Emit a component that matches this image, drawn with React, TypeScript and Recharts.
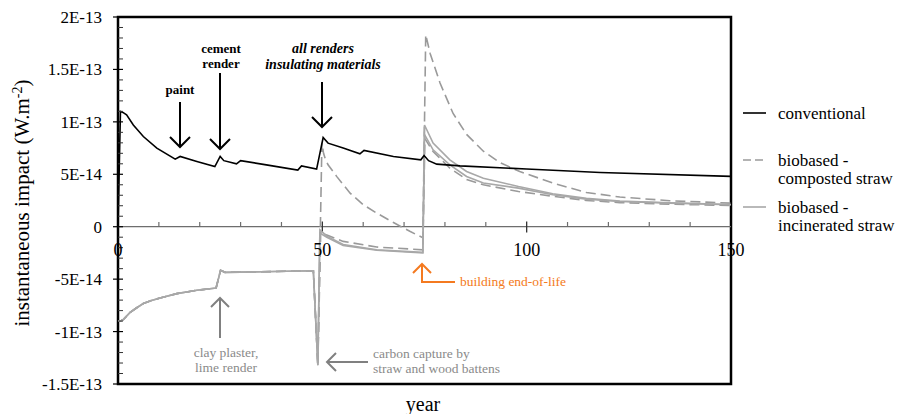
import React from "react"
import { LineChart, Line, XAxis, YAxis, ReferenceLine, ReferenceArea, ReferenceDot, Legend } from "recharts"

// values are in units of 1E-14 W.m-2, [year, value]
const conventional: [number, number][] = [
  [0, 0], [0.6, 11], [1.2, 10.9], [2.1, 10.67], [3.75, 9.7], [6.2, 8.6], [9.5, 7.5], [14, 6.45],
  [15.2, 6.7], [19.3, 6.22], [23.7, 5.74], [25, 6.7], [25.9, 6.3], [29, 6.0], [30, 6.3], [36.3, 5.9],
  [44, 5.4], [44.9, 5.8], [48.6, 5.5], [50.2, 8.5], [51.4, 7.97], [55.1, 7.5], [59.2, 6.95], [60.2, 7.27],
  [67.4, 6.7], [74.1, 6.38], [74.9, 6.8], [76, 6.3], [78, 5.97], [83.7, 5.8], [100, 5.5], [118, 5.17], [150, 4.8],
]

// shared by all biobased variants up to year 49
const biobasedEarly: [number, number][] = [
  [0, -9.0], [0.8, -8.95], [1.3, -8.86], [2.9, -8.2], [4.5, -7.75], [6.2, -7.33], [8, -7.05], [10.3, -6.8],
  [14.4, -6.38], [19.3, -6.06], [24, -5.84], [25.1, -4.16], [26.2, -4.35], [35, -4.3], [47.8, -4.2], [48.9, -13.2],
]

const compostedA: [number, number][] = [
  [49.9, 8.0], [50.3, 7.0], [50.7, 6.5], [51.4, 5.9], [53.5, 4.8], [56.8, 3.2], [60, 2.1], [63.3, 1.3],
  [67.4, 0.4], [71.4, -0.44], [74.6, -1.05], [75.3, 18.3], [76.4, 16.5], [78.8, 13.7], [82, 10.8],
  [85.3, 8.8], [89.4, 7.2], [93.5, 6.1], [98.3, 5.27], [106.4, 4.16], [114.6, 3.27], [122.8, 2.83],
  [135, 2.48], [150, 2.25],
]

const compostedB: [number, number][] = [
  [49.6, -0.5], [51.1, -0.8], [55.1, -1.4], [63.3, -1.94], [74.6, -2.2], [75.1, 8.4], [77.1, 7.17],
  [81.2, 5.59], [85.3, 4.5], [89.4, 4.0], [98, 3.36], [106.4, 2.9], [114.6, 2.5], [122.8, 2.3],
  [135, 2.15], [150, 2.03],
]

const incineratedA: [number, number][] = [
  [49.4, -0.3], [51.1, -0.9], [55.1, -1.7], [63.3, -2.19], [74.6, -2.45], [75, 9.7], [77.1, 7.97],
  [81.2, 6.38], [85.3, 5.27], [89.4, 4.63], [98, 3.84], [106.4, 3.15], [114.6, 2.7], [122.8, 2.45],
  [135, 2.28], [150, 2.12],
]

const incineratedB: [number, number][] = [
  [49.4, -0.6], [51.1, -1.0], [55.1, -1.8], [63.3, -2.25], [74.6, -2.5], [75, 8.8], [77.1, 7.33],
  [81.2, 5.9], [85.3, 4.79], [89.4, 4.16], [98, 3.68], [106.4, 3.05], [114.6, 2.63], [122.8, 2.41],
  [135, 2.25], [150, 2.1],
]

const yMajorTicks = [-15, -10, -5, 0, 5, 10, 15, 20]
const yTickLabels = ["-1.5E-13", "-1E-13", "-5E-14", "0", "5E-14", "1E-13", "1.5E-13", "2E-13"]
const yAllTicks = Array.from({ length: 36 }, (_, i) => i - 15)

const xMajorTicks = [0, 50, 100, 150]
const xTickLabels = ["0", "50", "100", "150"]
const xMinorTicks = [10, 20, 30, 40, 60, 70, 80, 90, 110, 120, 130, 140]

const legendItems = [
  { lines: ["conventional"], color: "#000", dash: "" },
  { lines: ["biobased -", "composted straw"], color: "#9a9a9a", dash: "8 4" },
  { lines: ["biobased -", "incinerated straw"], color: "#a8a8a8", dash: "" },
]

const serif = "Liberation Serif"
const DASHED = "#9a9a9a"
const SOLID = "#a8a8a8"

const toRows = (pts: [number, number][]) => pts.map(([year, v]) => ({ year, v }))

function YTick({ x, y, payload }: any) {
  const i = yMajorTicks.indexOf(payload.value)
  if (i < 0) return <line x1={x} x2={x + 5} y1={y} y2={y} stroke="#333" strokeWidth={1} />
  return (
    <g>
      <line x1={x - 5} x2={x + 5} y1={y} y2={y} stroke="#000" strokeWidth={1.2} />
      <text x={x - 16} y={y} dy="0.35em" textAnchor="end" fontSize={17} fontFamily={serif} fill="#000">
        {yTickLabels[i]}
      </text>
    </g>
  )
}

function LegendBox() {
  const tops = [18, 65, 112]
  return (
    <svg width={168} height={140}>
      {legendItems.map((it, i) => (
        <g key={i}>
          <line x1={8} x2={31} y1={tops[i]} y2={tops[i]} stroke={it.color} strokeWidth={1.6} strokeDasharray={it.dash} />
          {it.lines.map((t, j) => (
            <text key={j} x={43} y={tops[i] + j * 18.5} dy="0.33em" fontSize={17} fontFamily={serif} fill="#000">{t}</text>
          ))}
        </g>
      ))}
    </svg>
  )
}

function Arrow({ d, head, color }: { d: string; head: string; color: string }) {
  return (
    <g fill="none" stroke={color} strokeWidth={2}>
      <path d={d} />
      <path d={head} />
    </g>
  )
}

function Note({ x, y, children, ...rest }: any) {
  return (
    <text x={x} y={y} fontFamily={serif} {...rest}>
      {children}
    </text>
  )
}

export default function App() {
  const early = toRows(biobasedEarly)
  return (
    <div style={{ position: "absolute", left: 0, top: 0, width: 903, height: 414, background: "#fff" }}>
      <LineChart width={903} height={414} margin={{ top: 17, right: 172, bottom: 30, left: 0 }}>
        <XAxis type="number" dataKey="year" domain={[0, 150]} hide allowDataOverflow />
        <YAxis
          type="number"
          domain={[-15, 20]}
          ticks={yAllTicks}
          interval={0}
          width={118}
          tickSize={0}
          tickMargin={0}
          tickLine={false}
          axisLine={false}
          tick={<YTick />}
          allowDataOverflow
        />
        <ReferenceLine y={0} stroke="#6e6e6e" strokeWidth={1.2} />
        {xMinorTicks.map((t) => (
          <ReferenceLine key={t} segment={[{ x: t, y: 0 }, { x: t, y: 0.45 }]} stroke="#6e6e6e" strokeWidth={1.2} />
        ))}
        {xMajorTicks.slice(1, 3).map((t) => (
          <ReferenceLine key={t} segment={[{ x: t, y: -0.55 }, { x: t, y: 0.5 }]} stroke="#333" strokeWidth={1.3} />
        ))}
        {xMajorTicks.map((t, i) => (
          <ReferenceDot
            key={"l" + t}
            x={t}
            y={0}
            r={0}
            fill="none"
            stroke="none"
            ifOverflow="visible"
            label={{ value: xTickLabels[i], position: "bottom", offset: 17, fill: "#000", fontSize: 18, fontFamily: serif }}
          />
        ))}
        <Line data={[...early, ...toRows(compostedA)]} dataKey="v" stroke={DASHED} strokeWidth={1.6} strokeDasharray="10 5" dot={false} isAnimationActive={false} />
        <Line data={[...early, ...toRows(compostedB)]} dataKey="v" stroke={DASHED} strokeWidth={1.6} strokeDasharray="10 5" dot={false} isAnimationActive={false} />
        <Line data={[...early, ...toRows(incineratedB)]} dataKey="v" stroke={SOLID} strokeWidth={1.6} dot={false} isAnimationActive={false} />
        <Line data={[...early, ...toRows(incineratedA)]} dataKey="v" stroke={SOLID} strokeWidth={1.6} dot={false} isAnimationActive={false} />
        <Line data={toRows(conventional)} dataKey="v" stroke="#000" strokeWidth={1.6} dot={false} isAnimationActive={false} />
        <ReferenceArea x1={0} x2={150} y1={-15} y2={20} fill="none" fillOpacity={0} stroke="#000" strokeWidth={2.5} ifOverflow="visible" />
        <Legend
          layout="vertical"
          align="center"
          verticalAlign="middle"
          content={() => <LegendBox />}
          wrapperStyle={{ left: 735, top: 95, width: 168 }}
        />
      </LineChart>
      <svg width={903} height={414} style={{ position: "absolute", left: 0, top: 0, pointerEvents: "none" }}>
        <Note x={0} y={0} transform="translate(29,203) rotate(-90)" textAnchor="middle" fontSize={21} fill="#000">
          <tspan>instantaneous impact (W.m</tspan>
          <tspan dy={-7} fontSize={14}>-2</tspan>
          <tspan dy={7}>)</tspan>
        </Note>
        <Note x={423} y={411} textAnchor="middle" fontSize={20} fill="#000">year</Note>

        <g fontSize={13} fontWeight="bold" fill="#000" textAnchor="middle">
          <Note x={180} y={94}>paint</Note>
          <Note x={221} y={53}>cement</Note>
          <Note x={221} y={68}>render</Note>
          <Note x={323} y={53} fontStyle="italic" fontSize={14}>all renders</Note>
          <Note x={323} y={69} fontStyle="italic" fontSize={14}>insulating materials</Note>
        </g>
        <Arrow d="M180 102 V147" head="M170 137 L180 147 L190 137" color="#000" />
        <Arrow d="M220 73 V149" head="M210 139 L220 149 L230 139" color="#000" />
        <Arrow d="M322 82 V127" head="M312 117 L322 127 L332 117" color="#000" />

        <Arrow d="M220 338 V298" head="M211 307 L220 298 L229 307" color="#808080" />
        <g fontSize={13.5} fill="#8a8a8a">
          <Note x={226} y={357} textAnchor="middle">clay plaster,</Note>
          <Note x={226} y={372} textAnchor="middle">lime render</Note>
          <Note x={373} y={358}>carbon capture by</Note>
          <Note x={373} y={373}>straw and wood battens</Note>
        </g>
        <Arrow d="M368 362 H327" head="M336 353 L327 362 L336 371" color="#808080" />

        <Arrow d="M422 264 V282 H455" head="M413 273 L422 264 L431 273" color="#f47a20" />
        <Note x={460} y={286} fontSize={13.5} fill="#f47a20">building end-of-life</Note>
      </svg>
    </div>
  )
}
